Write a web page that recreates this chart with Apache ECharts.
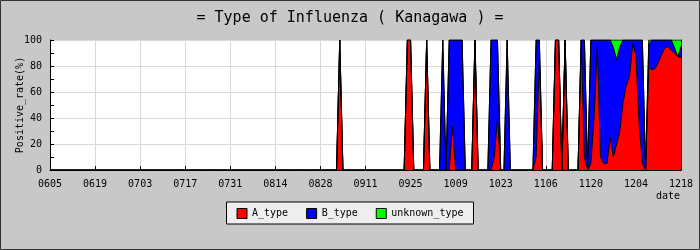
<!DOCTYPE html>
<html>
<head>
<meta charset="utf-8">
<script src="https://cdn.jsdelivr.net/npm/echarts@6/dist/echarts.min.js"></script>
<style>
html,body{margin:0;padding:0;background:#c8c8c8;}
#chart{width:700px;height:250px;}
</style>
</head>
<body>
<div id="chart"></div>
<script>
// Daily categories (MMDD), 0605 .. 1218
const categories = [
 '0605','0606','0607','0608','0609','0610','0611','0612','0613','0614','0615','0616','0617','0618','0619','0620','0621','0622','0623','0624','0625','0626','0627','0628','0629','0630',
 '0701','0702','0703','0704','0705','0706','0707','0708','0709','0710','0711','0712','0713','0714','0715','0716','0717','0718','0719','0720','0721','0722','0723','0724','0725','0726','0727','0728','0729','0730','0731',
 '0801','0802','0803','0804','0805','0806','0807','0808','0809','0810','0811','0812','0813','0814','0815','0816','0817','0818','0819','0820','0821','0822','0823','0824','0825','0826','0827','0828','0829','0830','0831',
 '0901','0902','0903','0904','0905','0906','0907','0908','0909','0910','0911','0912','0913','0914','0915','0916','0917','0918','0919','0920','0921','0922','0923','0924','0925','0926','0927','0928','0929','0930',
 '1001','1002','1003','1004','1005','1006','1007','1008','1009','1010','1011','1012','1013','1014','1015','1016','1017','1018','1019','1020','1021','1022','1023','1024','1025','1026','1027','1028','1029','1030','1031',
 '1101','1102','1103','1104','1105','1106','1107','1108','1109','1110','1111','1112','1113','1114','1115','1116','1117','1118','1119','1120','1121','1122','1123','1124','1125','1126','1127','1128','1129','1130',
 '1201','1202','1203','1204','1205','1206','1207','1208','1209','1210','1211','1212','1213','1214','1215','1216','1217','1218'
];
const tickLabels = ['0605','0619','0703','0717','0731','0814','0828','0911','0925','1009','1023','1106','1120','1204','1218'];

// Days with reported positives (all other days are 0)
const obsDates = ['0903','0924','0925','0930','1005','1007','1008','1009','1010','1011','1015','1020','1021','1022','1025',
 '1103','1104','1109','1110','1112','1117','1118',
 '1120','1121','1122','1123','1124','1125','1126','1127','1128','1129','1130','1201','1202','1203','1204','1205','1206',
 '1208','1209','1210','1211','1212','1213','1214','1215','1216','1217','1218'];
const aType = [100,100,100,100,0,0,34,0,0,0,100,0,10,40,0,
 10,85,100,100,100,100,10,
 5,40,95,10,5,5,25,10,20,30,52,65,72,97,88,35,5,
 79,77,78,83,89,94,95,92,90,87,87];
const bType = [0,0,0,0,100,100,66,100,100,100,0,100,90,60,100,
 90,15,0,0,0,0,90,
 95,60,5,90,95,95,75,84,65,65,48,35,28,3,12,65,95,
 18,23,22,17,11,6,5,8,4,0,8];
const unknownType = [0,0,0,0,0,0,0,0,0,0,0,0,0,0,0,
 0,0,0,0,0,0,0,
 0,0,0,0,0,0,0,6,15,5,0,0,0,0,0,0,0,
 3,0,0,0,0,0,0,0,6,13,5];

function fullSeries(vals){
  const m = {};
  obsDates.forEach((d,i)=>{ m[d]=vals[i]; });
  return categories.map(d => (d in m) ? m[d] : 0);
}

const chart = echarts.init(document.getElementById('chart'), null, {renderer:'canvas'});
const mono = 'DejaVu Sans Mono';
const lineStyle = {color:'#000', width:1};
function mk(name, vals, color){
  return {
    name, type:'line', stack:'total', data: fullSeries(vals),
    symbol:'none', showSymbol:false, smooth:false,
    itemStyle:{color}, lineStyle, areaStyle:{color, opacity:1},
    emphasis:{disabled:true}, animation:false
  };
}
chart.setOption({
  animation:false,
  backgroundColor:'#c8c8c8',
  title:{
    text:'= Type of Influenza ( Kanagawa ) =', left:'center', top:6,
    textStyle:{fontFamily:mono, fontSize:15, fontWeight:'normal', color:'#000'}
  },
  legend:{
    bottom:26, left:'center', icon:'rect', itemWidth:10, itemHeight:10, itemGap:18,
    padding:[6,10,5,10], backgroundColor:'#eeeeee', borderColor:'#000', borderWidth:1,
    itemStyle:{borderColor:'#000', borderWidth:1},
    textStyle:{fontFamily:mono, fontSize:10, color:'#000'},
    data:['A_type','B_type','unknown_type'], selectedMode:false
  },
  grid:{left:50, right:19, top:40, bottom:80, show:true, backgroundColor:'#fff', borderWidth:0,
        containLabel:false, outerBoundsMode:'none'},
  xAxis:{
    type:'category', data:categories, boundaryGap:false,
    name:'date', nameLocation:'end', nameGap:-1, nameMoveOverlap:false,
    nameTextStyle:{fontFamily:mono, fontSize:10, color:'#000', align:'right', verticalAlign:'top', padding:[21,0,0,0]},
    axisLine:{lineStyle:{color:'#000'}},
    axisTick:{inside:true, length:4, lineStyle:{color:'#000'},
      interval:(i,v)=>tickLabels.indexOf(v)>=0},
    axisLabel:{fontFamily:mono, fontSize:10, color:'#000', margin:9,
      interval:(i,v)=>tickLabels.indexOf(v)>=0},
    splitLine:{show:true, lineStyle:{color:'#d8d8d8'},
      interval:(i,v)=>tickLabels.indexOf(v)>=0 && v!=='0605' && v!=='1218'}
  },
  yAxis:[{
    type:'value', min:0, max:100, interval:20,
    name:'Positive_rate(%)', nameLocation:'middle', nameGap:25, nameMoveOverlap:false,
    nameTextStyle:{fontFamily:mono, fontSize:10, color:'#000'},
    axisLine:{show:true, lineStyle:{color:'#000'}},
    axisTick:{show:true, inside:true, length:4, lineStyle:{color:'#000'}},
    minorTick:{show:true, splitNumber:2, length:4, lineStyle:{color:'#000'}},
    axisLabel:{fontFamily:mono, fontSize:10, color:'#000', margin:8},
    splitLine:{show:true, lineStyle:{color:'#d8d8d8'}}
  },{
    type:'value', min:0, max:100, position:'right',
    axisLine:{show:true, lineStyle:{color:'#000'}},
    axisTick:{show:false}, axisLabel:{show:false}, splitLine:{show:false}
  }],
  series:[
    mk('A_type', aType, '#ff0000'),
    mk('B_type', bType, '#0000ff'),
    mk('unknown_type', unknownType, '#00ff00')
  ],
  graphic:[{type:'rect', shape:{x:0.5,y:0.5,width:699,height:249}, style:{fill:null, stroke:'#333', lineWidth:1}, silent:true, z:100}]
});
</script>
</body>
</html>
